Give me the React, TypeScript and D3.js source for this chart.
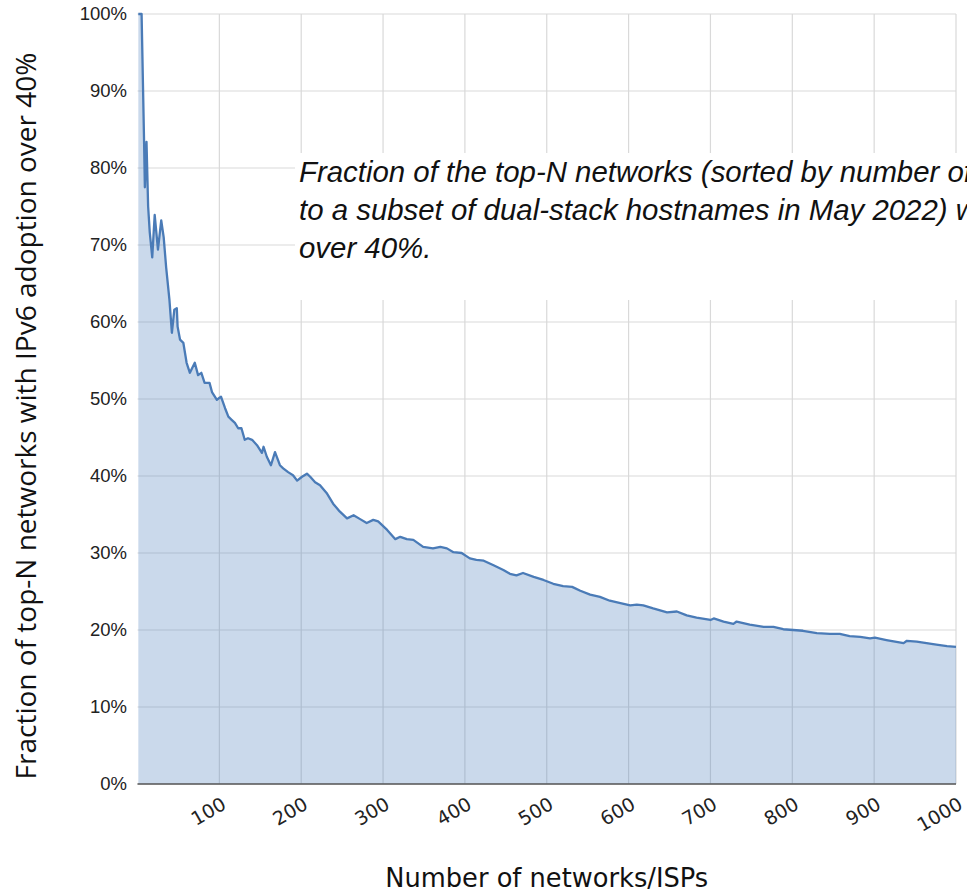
import React from 'react';
import * as d3 from 'd3';

const networksN = [
  1, 2, 3, 4, 5, 8, 9, 11, 13, 15, 18, 21, 25, 29, 32, 35, 39, 42, 45, 48, 49, 52, 56, 58, 60, 64,
  70, 74, 78, 82, 88, 91, 97, 102, 107, 111, 115, 119, 123, 127, 131, 135, 140, 146, 152, 154, 158,
  163, 168, 174, 178, 184, 190, 195, 201, 207, 211, 217, 223, 231, 239, 247, 256, 264, 272, 280, 288,
  294, 305, 315, 321, 329, 337, 349, 361, 370, 378, 386, 396, 406, 414, 423, 435, 447, 455, 463, 471,
  484, 496, 508, 520, 531, 541, 553, 565, 577, 590, 602, 610, 618, 630, 647, 659, 671, 683, 700, 704,
  716, 728, 732, 748, 765, 777, 789, 801, 813, 830, 846, 858, 870, 883, 895, 901, 915, 936, 940, 952,
  964, 976, 989, 1000,
];

const fractionPct = [
  100, 100, 100, 100, 100, 83.6, 77.5, 83.4, 75, 71.6, 68.4, 73.9, 69.4, 73.2, 71, 67.1, 62.9, 58.6,
  61.6, 61.8, 59.4, 57.7, 57.3, 56, 54.7, 53.4, 54.7, 53.1, 53.4, 52.1, 52.1, 50.9, 49.9, 50.3, 48.8,
  47.7, 47.3, 46.9, 46.2, 46.2, 44.7, 44.9, 44.7, 44, 43, 43.8, 42.5, 41.4, 43.1, 41.4, 41, 40.5, 40.1,
  39.4, 39.9, 40.3, 39.9, 39.2, 38.8, 37.8, 36.4, 35.4, 34.5, 34.9, 34.4, 33.9, 34.3, 34.1, 33, 31.8,
  32.1, 31.8, 31.7, 30.8, 30.6, 30.8, 30.6, 30.1, 30, 29.3, 29.1, 29, 28.4, 27.8, 27.3, 27.1, 27.4, 26.9,
  26.5, 26, 25.7, 25.6, 25.1, 24.6, 24.3, 23.8, 23.5, 23.2, 23.3, 23.2, 22.8, 22.3, 22.4, 21.9, 21.6,
  21.3, 21.5, 21.1, 20.8, 21.1, 20.7, 20.4, 20.4, 20.1, 20.0, 19.9, 19.6, 19.5, 19.5, 19.2, 19.1, 18.9,
  19.0, 18.7, 18.3, 18.6, 18.5, 18.3, 18.1, 17.9, 17.8,
];

const xTicks = [100, 200, 300, 400, 500, 600, 700, 800, 900, 1000];
const yTicks = [0, 10, 20, 30, 40, 50, 60, 70, 80, 90, 100];

const xTitle = 'Number of networks/ISPs';
const yTitle = 'Fraction of top-N networks with IPv6 adoption over 40%';
const annotationLines = [
  'Fraction of the top-N networks (sorted by number of',
  'to a subset of dual-stack hostnames in May 2022) w',
  'over 40%.',
];

export default function App() {
  const W = 967;
  const H = 892;
  const x = d3.scaleLinear().domain([0, 1000]).range([137.5, 956]);
  const y = d3.scaleLinear().domain([0, 100]).range([784, 14]);
  const data = networksN.map((n, i) => ({ n, v: fractionPct[i] }));
  const area = d3
    .area<{ n: number; v: number }>()
    .x((d) => x(d.n))
    .y0(y(0))
    .y1((d) => y(d.v));
  const line = d3
    .line<{ n: number; v: number }>()
    .x((d) => x(d.n))
    .y((d) => y(d.v));

  const [x0, x1] = x.range();
  const [yb, yt] = y.range();

  return (
    <svg
      width={W}
      height={H}
      style={{ position: 'absolute', left: 0, top: 0, background: '#fff' }}
    >
      <rect x={0} y={0} width={W} height={H} fill="#fff" />
      {yTicks.map((t) => (
        <line key={'hy' + t} x1={x0} x2={x1} y1={y(t)} y2={y(t)} stroke="#d9d9d9" strokeWidth={1.2} />
      ))}
      {xTicks.map((t) => (
        <line key={'vx' + t} x1={x(t)} x2={x(t)} y1={yt} y2={yb} stroke="#d9d9d9" strokeWidth={1.2} />
      ))}
      <path d={area(data) || ''} fill="#4f81bd" fillOpacity={0.3} />
      <path d={line(data) || ''} fill="none" stroke="#4a7bb7" strokeWidth={2.3} strokeLinejoin="round" />
      <line x1={x0} x2={x1} y1={yb} y2={yb} stroke="#595959" strokeWidth={1.3} />

      {yTicks.map((t) => (
        <text
          key={'yl' + t}
          x={127}
          y={y(t)}
          dy="0.35em"
          textAnchor="end"
          fontFamily="'Liberation Sans', Arial, sans-serif"
          fontSize={18.5}
          fill="#222"
        >
          {t + '%'}
        </text>
      ))}
      {xTicks.map((t) => (
        <text
          key={'xl' + t}
          transform={`translate(${x(t) + 8},${808}) rotate(-30)`}
          textAnchor="end"
          fontFamily="'DejaVu Sans', sans-serif"
          fontSize={19}
          fill="#222"
        >
          {t}
        </text>
      ))}

      <text
        x={(x0 + x1) / 2}
        y={886.7}
        textAnchor="middle"
        fontFamily="'DejaVu Sans', sans-serif"
        fontSize={25.7}
        fill="#111"
      >
        {xTitle}
      </text>
      <text
        transform={`translate(36,416) rotate(-90)`}
        textAnchor="middle"
        fontFamily="'Open Sans', sans-serif"
        fontSize={28}
        fill="#111"
      >
        {yTitle}
      </text>

      <rect x={295} y={153} width={W - 295} height={147} fill="#fff" />
      {annotationLines.map((l, i) => (
        <text
          key={'an' + i}
          x={299}
          y={182 + i * 38}
          fontFamily="'Liberation Sans', Arial, sans-serif"
          fontStyle="italic"
          fontSize={29.4}
          fill="#111"
        >
          {l}
        </text>
      ))}
    </svg>
  );
}
